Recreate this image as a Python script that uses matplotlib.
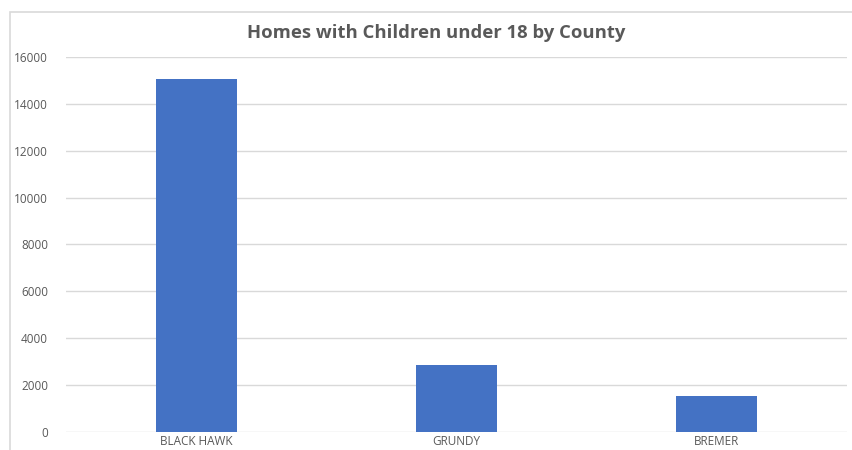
import matplotlib.pyplot as plt
from matplotlib.patches import Rectangle

counties = ["BLACK HAWK", "GRUNDY", "BREMER"]
homes_with_children = [15080, 2850, 1550]
y_ticks = [0, 2000, 4000, 6000, 8000, 10000, 12000, 14000, 16000]

plt.rcParams['font.family'] = ['Open Sans', 'DejaVu Sans']
text_gray = "#595959"
grid_gray = "#d9d9d9"

fig = plt.figure(figsize=(8.52, 4.5), dpi=100)

# chart frame (runs off the right and bottom edges)
fig.patches.append(Rectangle((10 / 852, -0.1), 1.2, 1.1 - 12 / 450,
                             transform=fig.transFigure, fill=False,
                             edgecolor=grid_gray, linewidth=1.2))

ax = fig.add_axes([66 / 852, 18 / 450, 781 / 852, 375 / 450])
x = range(len(counties))
ax.bar(x, homes_with_children, width=0.31, color="#4472C4", zorder=3)

ax.set_xlim(-0.5, len(counties) - 0.5)
ax.set_ylim(0, 16000)
ax.set_yticks(y_ticks)
ax.set_yticklabels([str(v) for v in y_ticks])
ax.set_xticks(list(x))
ax.set_xticklabels(counties)
ax.tick_params(axis='both', length=0, colors=text_gray, labelsize=8.5)
ax.tick_params(axis='y', pad=13)
ax.tick_params(axis='x', pad=2.5)
ax.grid(axis='y', color=grid_gray, linewidth=1, zorder=0)
for side in ax.spines:
    ax.spines[side].set_visible(False)

fig.text(436 / 852, 1 - 33 / 450, "Homes with Children under 18 by County",
         ha='center', va='center', fontsize=13.3, fontweight='bold', color=text_gray)

fig.savefig("out.png", dpi=100)
